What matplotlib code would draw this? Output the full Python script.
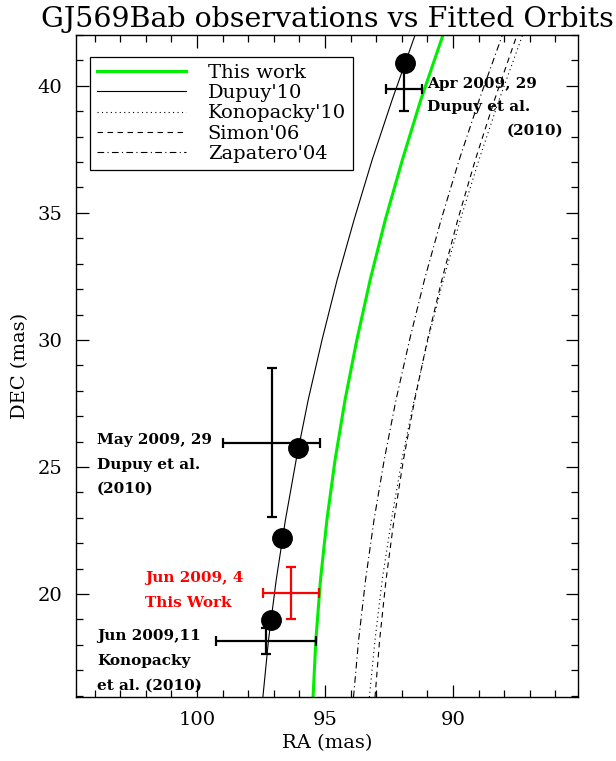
import numpy as np
import matplotlib
matplotlib.use("Agg")
import matplotlib.pyplot as plt
from matplotlib.ticker import MultipleLocator

plt.rcParams['font.family'] = ['DejaVu Serif']

# ---- data (mas) ----
# DEC values at which the fitted orbit curves were read
orbit_dec = [15.94, 18.19, 20.55, 22.91, 25.28, 27.64, 30.00, 32.36, 34.72, 37.09, 39.45, 42.01]

green_ra = [95.47, 95.36, 95.18, 94.93, 94.61, 94.22, 93.76, 93.24, 92.65, 91.98, 91.26, 90.39]
dupuy_ra = [97.43, 97.21, 96.91, 96.55, 96.13, 95.66, 95.12, 94.53, 93.87, 93.16, 92.38, 91.48]
kono_ra = [93.27, 93.05, 92.77, 92.41, 92.00, 91.52, 90.98, 90.38, 89.72, 88.99, 88.20, 87.28]
simon_ra = [93.05, 92.87, 92.62, 92.31, 91.94, 91.50, 91.00, 90.44, 89.82, 89.13, 88.38, 87.50]
zap_ra = [93.89, 93.69, 93.42, 93.09, 92.69, 92.23, 91.70, 91.12, 90.47, 89.76, 88.98, 88.07]

circ_ra = [91.88, 96.04, 96.67, 97.12]
circ_dec = [40.89, 25.74, 22.19, 18.98]

obs_ra = [91.91, 97.08, 97.31]
obs_dec = [39.88, 25.96, 18.16]
obs_xerr = [0.70, 1.89, 1.96]
obs_yerr = [0.89, 2.94, 0.50]

tw_ra = [96.34]
tw_dec = [20.05]
tw_xerr = [1.10]
tw_yerr = [1.03]

legend_labels = ["This work", "Dupuy'10", "Konopacky'10", "Simon'06", "Zapatero'04"]

fig = plt.figure(figsize=(6.16, 7.61), dpi=100)
ax = fig.add_axes([76/616, 64/761, 502/616, 662/761])

l1, = ax.plot(green_ra, orbit_dec, color='#00ee00', lw=2.2)
l2, = ax.plot(dupuy_ra, orbit_dec, color='black', lw=0.8)
l3, = ax.plot(kono_ra, orbit_dec, color='black', lw=0.8, linestyle=(0, (1, 3)))
l4, = ax.plot(simon_ra, orbit_dec, color='black', lw=0.8, linestyle=(0, (5, 4)))
l5, = ax.plot(zap_ra, orbit_dec, color='black', lw=0.8, linestyle=(0, (6, 3, 1, 3)))

ax.plot(circ_ra, circ_dec, 'o', color='black', markersize=14, zorder=5)

ax.errorbar(obs_ra, obs_dec, xerr=obs_xerr, yerr=obs_yerr, fmt='none',
            ecolor='black', elinewidth=1.6, capsize=3.8, capthick=1.6, zorder=6)
ax.errorbar(tw_ra, tw_dec, xerr=tw_xerr, yerr=tw_yerr, fmt='none',
            ecolor='red', elinewidth=1.6, capsize=3.8, capthick=1.6, zorder=6)

tkw = dict(fontsize=11, fontweight='bold', va='center')
ax.text(91.02, 40.08, "Apr 2009, 29", ha='left', **tkw)
ax.text(91.02, 39.17, "Dupuy et al.", ha='left', **tkw)
ax.text(85.71, 38.23, "(2010)", ha='right', **tkw)

ax.text(103.91, 26.06, "May 2009, 29", ha='left', **tkw)
ax.text(103.91, 25.08, "Dupuy et al.", ha='left', **tkw)
ax.text(103.91, 24.13, "(2010)", ha='left', **tkw)

ax.text(102.03, 20.63, "Jun 2009, 4", ha='left', color='red', **tkw)
ax.text(102.03, 19.65, "This Work", ha='left', color='red', **tkw)

ax.text(103.91, 18.35, "Jun 2009,11", ha='left', **tkw)
ax.text(103.91, 17.36, "Konopacky", ha='left', **tkw)
ax.text(103.91, 16.38, "et al. (2010)", ha='left', **tkw)

ax.set_xlim(104.73, 85.12)
ax.set_ylim(15.95, 42.0)

ax.xaxis.set_major_locator(MultipleLocator(5))
ax.xaxis.set_minor_locator(MultipleLocator(1))
ax.yaxis.set_major_locator(MultipleLocator(5))
ax.yaxis.set_minor_locator(MultipleLocator(1))
ax.tick_params(which='both', direction='in', top=True, right=True, width=0.9)
ax.tick_params(which='major', length=9, labelsize=14, pad=10)
ax.tick_params(which='minor', length=5)
for s in ax.spines.values():
    s.set_linewidth(1.0)

ax.set_xlabel("RA (mas)", fontsize=14, labelpad=4)
ax.set_ylabel("DEC (mas)", fontsize=14, labelpad=6)
ax.set_title("GJ569Bab observations vs Fitted Orbits", fontsize=20.5, pad=6)

leg = ax.legend([l1, l2, l3, l4, l5], legend_labels, loc='upper left',
                bbox_to_anchor=(0.028, 0.967), fancybox=False, edgecolor='black',
                framealpha=1, prop={'size': 14},
                handlelength=4.6, handletextpad=1.1, labelspacing=0.12,
                borderpad=0.35, borderaxespad=0)
leg.get_frame().set_linewidth(0.9)

fig.savefig("out.png", dpi=100)
